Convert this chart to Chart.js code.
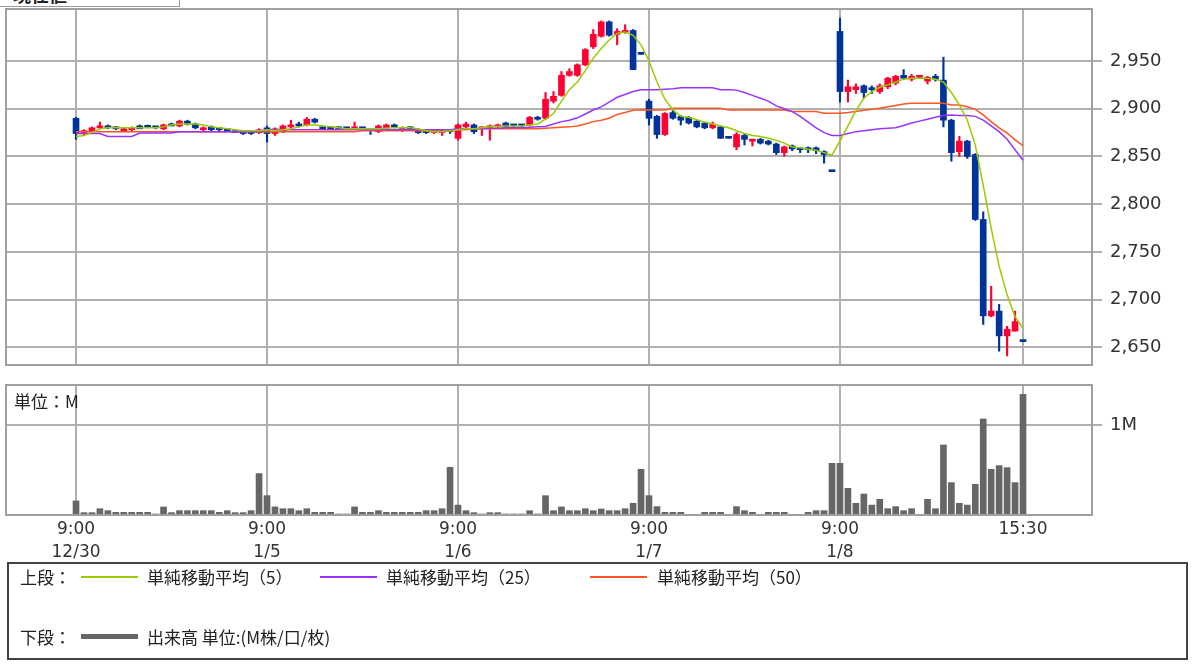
<!DOCTYPE html>
<html>
<head>
<meta charset="utf-8">
<script src="https://cdn.jsdelivr.net/npm/chart.js@4.4.1/dist/chart.umd.min.js"></script>
<style>
  body { margin: 0; background: #fff; width: 1196px; height: 666px; overflow: hidden; position: relative;
         font-family: "Noto Sans CJK JP", sans-serif; color: #222; }
  canvas { position: absolute; left: 0; }
  #price { top: 0; }
  #vol { top: 375px; }
  #tab { position: absolute; left: -2px; top: -19px; width: 182px; height: 26px; box-sizing: border-box;
         border: 1px solid #999; background: #fff; font-size: 18px; font-weight: bold; line-height: 24px;
         padding-left: 14px; z-index: 2; }
  #unit { position: absolute; left: 14px; top: 389px; font-size: 17px; line-height: 24px; }
  #legend { position: absolute; left: 7px; top: 562px; width: 1181px; height: 98px; box-sizing: border-box;
            border: 2px solid #444; }
  #legend span { position: absolute; font-size: 17px; line-height: 24px; white-space: nowrap; }
  #legend i { position: absolute; height: 2px; width: 57px; }
</style>
</head>
<body>
<div id="tab">現在値</div>
<canvas id="price" width="1196" height="375" style="width:1196px;height:375px"></canvas>
<canvas id="vol" width="1196" height="190" style="width:1196px;height:190px"></canvas>
<div id="unit">単位：M</div>
<div id="legend">
  <span style="left:11px;top:1px">上段：</span>
  <i style="left:72px;top:12px;background:#99cc00"></i>
  <span style="left:138px;top:1px">単純移動平均（5）</span>
  <i style="left:311px;top:12px;background:#9933ff"></i>
  <span style="left:377px;top:1px">単純移動平均（25）</span>
  <i style="left:581px;top:12px;background:#ff5522"></i>
  <span style="left:648px;top:1px">単純移動平均（50）</span>
  <span style="left:11px;top:61px">下段：</span>
  <i style="left:72px;top:70px;height:5px;background:#666"></i>
  <span style="left:138px;top:61px">出来高 単位:(M株/口/枚)</span>
</div>
<script>
// 15-minute bars, 24 per day: 12/30, 1/5, 1/6, 1/7, 1/8
const open = [
  2890,2875,2876,2880,2882,2880,2877,2878,2882,2881,2880,2879,2884,2882,2887,2884,2878,2881,2878,2878,2877,2876,2875,2875,
  2880,2874,2876,2881,2884,2883,2889,2881,2880,2880,2879,2879,2879,2878,2876,2880,2883,2878,2880,2878,2877,2875,2875,2876,
  2869,2881,2883,2879,2880,2881,2885,2882,2882,2883,2891,2890,2908,2914,2935,2935,2946,2965,2976,2991,2978,2980,2982,2957,
  2908,2892,2873,2896,2892,2891,2887,2885,2880,2881,2869,2860,2872,2866,2868,2866,2863,2854,2861,2858,2859,2859,2855,2834,
  2981,2918,2920,2924,2922,2918,2923,2927,2935,2931,2933,2929,2934,2930,2888,2855,2866,2852,2784,2683,2688,2662,2667,2656
];
const high = [
  2891,2878,2881,2886,2883,2881,2880,2881,2883,2883,2881,2884,2885,2888,2888,2885,2881,2882,2879,2879,2878,2877,2876,2879,
  2882,2880,2883,2888,2886,2891,2890,2882,2881,2881,2880,2886,2880,2879,2883,2884,2884,2881,2881,2879,2878,2878,2877,2877,
  2884,2886,2884,2881,2883,2884,2886,2883,2883,2892,2892,2917,2918,2939,2942,2947,2963,2983,2992,2992,2984,2988,2983,2957,
  2910,2893,2896,2899,2893,2892,2888,2886,2886,2882,2869,2875,2874,2868,2869,2867,2864,2861,2862,2859,2860,2860,2856,2834,
  2995,2930,2926,2925,2924,2926,2933,2935,2941,2936,2935,2934,2936,2954,2889,2871,2867,2853,2792,2714,2695,2672,2688,2656
];
const low = [
  2868,2872,2875,2879,2879,2878,2876,2877,2879,2880,2879,2878,2882,2881,2883,2879,2877,2877,2877,2876,2875,2873,2873,2874,
  2865,2872,2875,2880,2881,2882,2885,2878,2878,2878,2878,2878,2878,2873,2875,2879,2880,2876,2878,2874,2874,2874,2872,2874,
  2867,2880,2874,2872,2867,2880,2880,2881,2881,2882,2888,2889,2906,2913,2934,2934,2945,2963,2975,2976,2967,2979,2941,2957,
  2883,2869,2872,2889,2883,2884,2880,2879,2879,2869,2869,2857,2862,2861,2863,2862,2852,2850,2856,2854,2854,2853,2843,2834,
  2907,2907,2916,2911,2916,2916,2921,2925,2931,2929,2932,2926,2929,2881,2845,2850,2848,2783,2674,2682,2646,2641,2667,2656
];
const close = [
  2874,2877,2880,2882,2880,2879,2879,2880,2879,2880.5,2880,2883,2882,2887,2884,2880,2880,2878,2878,2877,2875,2874,2874,2878,
  2874,2879,2882,2883,2882,2889,2886,2879,2879,2879,2879,2880,2879,2877,2882,2883,2881,2880,2879,2875,2875,2877,2876,2876,
  2883,2884,2876,2880,2882,2883,2881,2882,2882,2891,2889,2910,2913,2935,2939,2946,2962,2978,2991,2977,2981,2982,2941,2957,
  2890,2873,2895,2890,2888,2885,2881,2880,2884,2869,2869,2873,2868,2867,2864,2863,2854,2860,2858,2857,2857,2856,2852,2834,
  2918,2923,2923,2917,2920,2924,2932,2934,2932,2934,2934,2933,2931,2888,2854,2866,2850,2784,2683,2688,2662,2669,2677,2656
];
const sma5 = [
  2871,2872,2875,2879,2880,2880,2880,2880,2880,2880,2880,2881,2883,2884,2884,2884,2883,2881,2880,2879,2878,2877,2877,2877,
  2878,2877,2878,2879,2881,2883,2883,2882,2881,2880,2879,2879,2879,2879,2879,2879.5,2880,2880,2880,2879,2877,2876,2876,2877,
  2878,2879,2879,2880,2881,2881.5,2882,2882,2882,2883,2884,2889,2895,2908,2920,2928,2940,2953,2963,2972,2979,2980.5,2977,2967,
  2950,2928,2910,2899,2892,2891,2888.5,2886,2884,2882,2880,2877,2874,2872,2871,2869,2867,2864,2860,2859,2857.5,2856.5,2854,2851.5,
  2866,2882,2898,2911,2918,2922.5,2925,2928,2931,2932,2932,2932,2931,2928,2917,2904,2888,2862,2820,2775,2735,2705,2682,2670
];
const sma25 = [
  2874,2874,2874,2874,2871,2871,2871,2871,2874.5,2874.5,2874.5,2874.5,2874.5,2876,2876,2876,2876,2876,2876,2876,2876,2876,2876,2876,
  2878,2878,2878,2878,2878,2878,2878,2878,2878,2878,2878,2878,2878,2878,2878,2878,2878,2878,2878,2878,2878,2878,2878,2878,
  2879,2879,2879,2879,2879.5,2879.5,2880,2880,2880,2880.5,2881,2881.3,2884,2886.5,2888,2890.5,2894.5,2898.7,2902,2907,2912,2915,2918,2920,
  2920,2920,2920.5,2921,2922,2922,2922,2922,2922,2920,2920,2919.5,2917,2914,2911,2908,2903,2900,2897,2892,2886,2880,2875,2872,
  2872,2874,2876,2877,2878,2879,2879.5,2880,2882.5,2885,2887,2889,2891,2893,2893.5,2893,2893,2892,2888,2882,2876,2868,2857,2846
];
const sma50 = [
  2876,2876,2876,2876,2876,2876,2876,2876,2876,2876,2876,2876,2876,2876,2876,2876,2876,2876,2876,2876,2876,2876,2876,2876,
  2876,2876,2876,2876,2876,2876,2876,2876,2876,2876,2876,2876,2877,2877,2877,2877,2877,2877,2877,2877,2877,2877,2877,2877,
  2878,2878,2879,2879,2879,2879,2879,2879,2879,2879,2879,2879.5,2880,2880.5,2881,2882,2884,2886.5,2888,2890,2894,2896,2898.5,2899,
  2898.7,2898.7,2898.7,2900.5,2900.5,2900.5,2900.5,2900.5,2900.5,2900.5,2898.7,2898.7,2898.7,2898.7,2898.7,2898.7,2898.7,2898.7,2897,2897,2897,2897,2895.3,2895.3,
  2895.3,2896,2897,2898.5,2899.5,2900.5,2902,2903.5,2905,2905.8,2905.8,2905.8,2905.8,2905.8,2904,2904,2902,2899.4,2893.5,2886.5,2880,2874.4,2867.4,2861.4
];
// volume, millions
const volume = [
  0.156,0.026,0.026,0.07,0.048,0.03,0.03,0.03,0.03,0.03,0.011,0.089,0.026,0.048,0.048,0.048,0.048,0.048,0.03,0.048,0.026,0.026,0.048,0.46,
  0.215,0.09,0.07,0.07,0.048,0.07,0.03,0.03,0.03,0.011,0.011,0.09,0.03,0.03,0.048,0.03,0.03,0.03,0.03,0.03,0.048,0.048,0.07,0.53,
  0.11,0.048,0.026,0.011,0.026,0.026,0.011,0.011,0.011,0.048,0.011,0.215,0.048,0.09,0.048,0.048,0.07,0.048,0.067,0.048,0.048,0.07,0.13,0.507,
  0.215,0.093,0.03,0.03,0.03,0.007,0.007,0.03,0.03,0.03,0.007,0.093,0.048,0.03,0.007,0.03,0.03,0.03,0.007,0.007,0.03,0.048,0.048,0.574,
  0.574,0.296,0.13,0.233,0.11,0.174,0.07,0.093,0.048,0.07,0.007,0.174,0.07,0.778,0.36,0.13,0.11,0.34,1.067,0.507,0.548,0.526,0.36,1.34
];
const dayTicks = [0, 24, 48, 72, 96, 119];
const dayLabels = [["9:00", "12/30"], ["9:00", "1/5"], ["9:00", "1/6"], ["9:00", "1/7"], ["9:00", "1/8"], ["15:30"]];
const priceTicks = [2650, 2700, 2750, 2800, 2850, 2900, 2950];
const volTicks = [1];

const RED = "#ff0033", BLUE = "#003399";
const gridColor = "#b0b0b0";
const xMin = -8.8, xMax = 127.67;

const idx = open.map((_, i) => i);
const candleColors = idx.map(i => (close[i] > open[i] ? RED : BLUE));
const line = (arr) => idx.map(i => ({ x: i, y: arr[i] }));

const frame = {
  id: "frame",
  afterDraw(chart) {
    const { ctx, chartArea: a } = chart;
    ctx.save();
    ctx.strokeStyle = "#a0a0a0";
    ctx.lineWidth = 2;
    ctx.strokeRect(a.left, a.top, a.right - a.left, a.bottom - a.top);
    ctx.restore();
  }
};

// no label overhang padding, the layout padding places the plot
const fitWidth = s => { s.width = 104; s.paddingTop = 0; s.paddingBottom = 0; };

const xAxis = (showLabels) => ({
  type: "linear",
  min: xMin,
  max: xMax,
  offset: false,
  afterBuildTicks: s => { s.ticks = dayTicks.map(v => ({ value: v })); },
  afterFit: s => { s.height = showLabels ? 50 : 0; s.paddingLeft = 0; s.paddingRight = 0; },
  grid: { color: gridColor, lineWidth: 2, drawTicks: false, offset: false },
  border: { display: false },
  ticks: {
    display: showLabels,
    autoSkip: false,
    maxRotation: 0,
    padding: 3,
    color: "#333",
    font: { family: "DejaVu Sans", size: 17, lineHeight: 1.35 },
    callback: (v, i) => dayLabels[i]
  }
});

new Chart(document.getElementById("price"), {
  type: "bar",
  plugins: [frame],
  data: {
    datasets: [
      { type: "line", data: line(sma5), borderColor: "#99cc00", borderWidth: 1.5, pointRadius: 0, order: 0 },
      { type: "line", data: line(sma25), borderColor: "#9933ff", borderWidth: 1.5, pointRadius: 0, order: 0 },
      { type: "line", data: line(sma50), borderColor: "#ff5522", borderWidth: 1.5, pointRadius: 0, order: 0 },
      { data: idx.map(i => ({ x: i, y: [open[i], close[i]] })), backgroundColor: candleColors,
        barThickness: 6, minBarLength: 2, grouped: false, order: 2 },
      { data: idx.map(i => ({ x: i, y: [low[i], high[i]] })), backgroundColor: candleColors,
        barThickness: 1.5, grouped: false, order: 3 }
    ]
  },
  options: {
    responsive: false,
    animation: false,
    layout: { padding: { left: 6, top: 9, right: 0, bottom: 10 } },
    plugins: { legend: { display: false }, tooltip: { enabled: false } },
    scales: {
      x: xAxis(false),
      y: {
        position: "right",
        min: 2631.5,
        max: 3004.5,
        afterBuildTicks: s => { s.ticks = priceTicks.map(v => ({ value: v })); },
        afterFit: fitWidth,
        grid: { color: gridColor, lineWidth: 2, tickLength: 10 },
        border: { display: false },
        ticks: { padding: 8, color: "#333", font: { family: "DejaVu Sans", size: 18 },
                 callback: v => v.toLocaleString("en-US") }
      }
    }
  }
});

new Chart(document.getElementById("vol"), {
  type: "bar",
  plugins: [frame],
  data: {
    datasets: [
      { data: idx.map(i => ({ x: i, y: volume[i] })), backgroundColor: "#666666", barThickness: 6 }
    ]
  },
  options: {
    responsive: false,
    animation: false,
    layout: { padding: { left: 6, top: 10, right: 0, bottom: 0 } },
    plugins: { legend: { display: false }, tooltip: { enabled: false } },
    scales: {
      x: xAxis(true),
      y: {
        position: "right",
        min: 0,
        max: 1.444,
        afterBuildTicks: s => { s.ticks = volTicks.map(v => ({ value: v })); },
        afterFit: fitWidth,
        grid: { color: gridColor, lineWidth: 2, tickLength: 10 },
        border: { display: false },
        ticks: { padding: 8, color: "#333", font: { family: "DejaVu Sans", size: 18 }, callback: v => v + "M" }
      }
    }
  }
});
</script>
</body>
</html>
